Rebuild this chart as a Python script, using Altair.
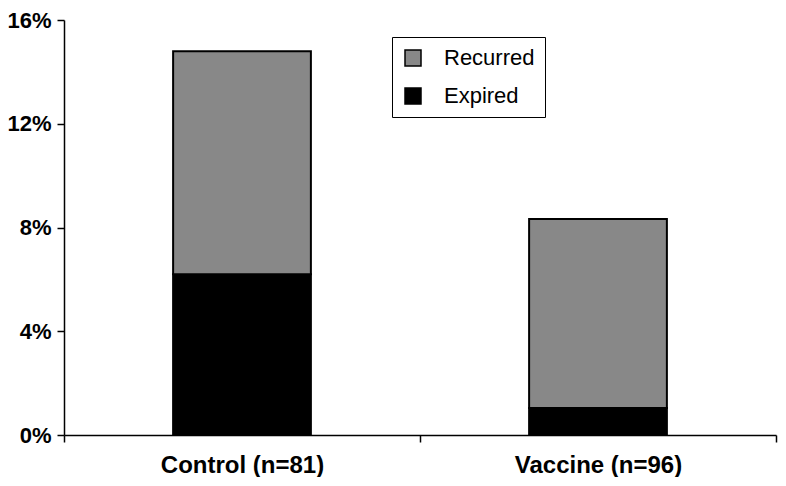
import altair as alt
import pandas as pd

groups = ["Control (n=81)", "Vaccine (n=96)"]
expired = [0.062, 0.0104]
recurred = [0.086, 0.0729]
outcomes = ["Recurred", "Expired"]
colors = ["#888888", "#000000"]
y_ticks = [0, 0.04, 0.08, 0.12, 0.16]

rows = []
for g, e, r in zip(groups, expired, recurred):
    rows.append({"group": g, "outcome": "Expired", "rate": e, "order": 0})
    rows.append({"group": g, "outcome": "Recurred", "rate": r, "order": 1})
df = pd.DataFrame(rows)

FONT = "Liberation Sans"

chart = alt.Chart(df).mark_bar(
    stroke="black", strokeWidth=2, width=alt.RelativeBandSize(0.387)
).encode(
    x=alt.X(
        "group:N", sort=groups, title=None,
        scale=alt.Scale(paddingInner=0, paddingOuter=0),
        axis=alt.Axis(
            labelAngle=0, labelFontSize=24, labelFontWeight="bold", labelColor="black",
            labelFont=FONT, tickBand="extent", tickSize=7, tickColor="black", tickWidth=1.5,
            domainColor="black", domainWidth=1.5, labelPadding=11, grid=False,
        ),
    ),
    y=alt.Y(
        "rate:Q", stack="zero", title=None,
        scale=alt.Scale(domain=[0, 0.16], nice=False),
        axis=alt.Axis(
            values=y_ticks, format=".0%", labelFontSize=22, labelFontWeight="bold",
            labelColor="black", labelFont=FONT, tickSize=7, tickColor="black", tickWidth=1.5,
            domainColor="black", domainWidth=1.5, labelPadding=6, grid=False,
        ),
    ),
    color=alt.Color(
        "outcome:N",
        scale=alt.Scale(domain=outcomes, range=colors),
        legend=alt.Legend(
            title=None, orient="none", legendX=328, legendY=17,
            symbolType="square", symbolSize=256, symbolStrokeColor="black",
            symbolStrokeWidth=1.5, labelFontSize=22, labelFont=FONT, labelColor="black",
            labelOffset=20, rowPadding=16, padding=10, strokeColor="black",
            fillColor="white",
        ),
    ),
    order=alt.Order("order:Q"),
).properties(
    width=712, height=415,
    padding={"left": 56, "top": 12, "right": 2, "bottom": 42},
    autosize=alt.AutoSizeParams(type="none"),
).configure_view(stroke=None)

chart.save("out.html", embed_options={"renderer": "svg", "actions": False})
